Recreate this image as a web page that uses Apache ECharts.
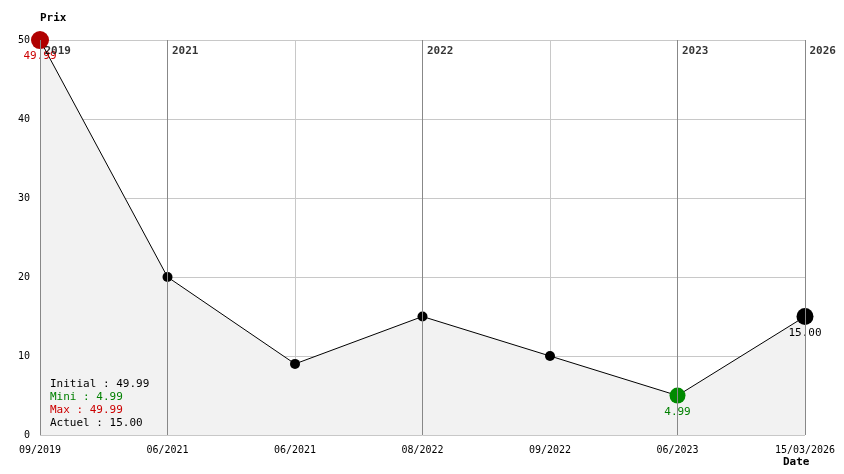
<!DOCTYPE html>
<html><head><meta charset="utf-8">
<script src="https://cdn.jsdelivr.net/npm/echarts@6/dist/echarts.min.js"></script>
<style>html,body{margin:0;padding:0;background:#fff}#c{width:844px;height:474px}</style>
</head><body><div id="c"></div>
<script>
const categories = ['09/2019','06/2021','06/2021','08/2022','09/2022','06/2023','15/03/2026'];
const prices = [49.99, 20, 9, 15, 10, 4.99, 15];
const yearIdx = [0, 1, 3, 5, 6];
const yearLabels = ['2019','2021','2022','2023','2026'];
const summary = [['Initial : 49.99','#000'],['Mini : 4.99','#008000'],['Max : 49.99','#cc0000'],['Actuel : 15.00','#000']];
const F = 'DejaVu Sans Mono';
const chart = echarts.init(document.getElementById('c'));
const pts = prices.map((v,i)=>{
  if(i===0) return {value:v,symbolSize:18,itemStyle:{color:'#b00000'},label:{show:true,position:'bottom',distance:2,formatter:'49.99',color:'#cc0000'}};
  if(i===5) return {value:v,symbolSize:16,itemStyle:{color:'#008a00'},label:{show:true,position:'bottom',distance:3,formatter:'4.99',color:'#008000'}};
  if(i===6) return {value:v,symbolSize:17,itemStyle:{color:'#000'},label:{show:true,position:'bottom',distance:3,formatter:'15.00',color:'#000'}};
  return v;
});
chart.setOption({
  animation:false,
  textStyle:{fontFamily:F},
  grid:{left:40,right:39,top:40,bottom:39},
  xAxis:{type:'category',data:categories,boundaryGap:false,
    axisLine:{show:false},axisTick:{show:false},
    axisLabel:{color:'#000',fontSize:10,fontFamily:F,margin:10,interval:0},
    splitLine:{show:true,lineStyle:{color:'#c8c8c8'}}},
  yAxis:{type:'value',min:0,max:50,interval:10,name:'Prix',nameGap:16,
    nameTextStyle:{fontWeight:'bold',fontSize:11,color:'#000',align:'left'},
    axisLine:{show:false},axisTick:{show:false},
    axisLabel:{color:'#000',fontSize:10,fontFamily:F,margin:10},
    splitLine:{lineStyle:{color:'#c8c8c8'}}},
  series:[
    {type:'line',data:pts,symbol:'circle',symbolSize:10,itemStyle:{color:'#000'},
     lineStyle:{color:'#000',width:1},areaStyle:{color:'#f2f2f2',opacity:1},
     label:{fontFamily:F,fontSize:11},z:3,
     markLine:{silent:true,symbol:'none',label:{show:false},lineStyle:{color:'#888',type:'solid',width:1},
       data:yearIdx.map(i=>({xAxis:i}))}},
    {type:'scatter',symbolSize:1,itemStyle:{color:'transparent'},z:4,
     data:yearIdx.map((i,k)=>({value:[i,50],name:yearLabels[k]})),
     label:{show:true,position:'right',offset:[-1,11],formatter:p=>p.name,fontWeight:'bold',fontSize:11,color:'#000',fontFamily:F}}
  ],
  graphic:summary.map((s,k)=>({type:'text',left:50,top:379+k*13,z:100,
      style:{text:s[0],fill:s[1],fontSize:11,fontFamily:F}}))
    .concat([{type:'text',left:783,top:457,z:100,style:{text:'Date',fill:'#000',fontSize:11,fontWeight:'bold',fontFamily:F}}])
});
</script></body></html>
